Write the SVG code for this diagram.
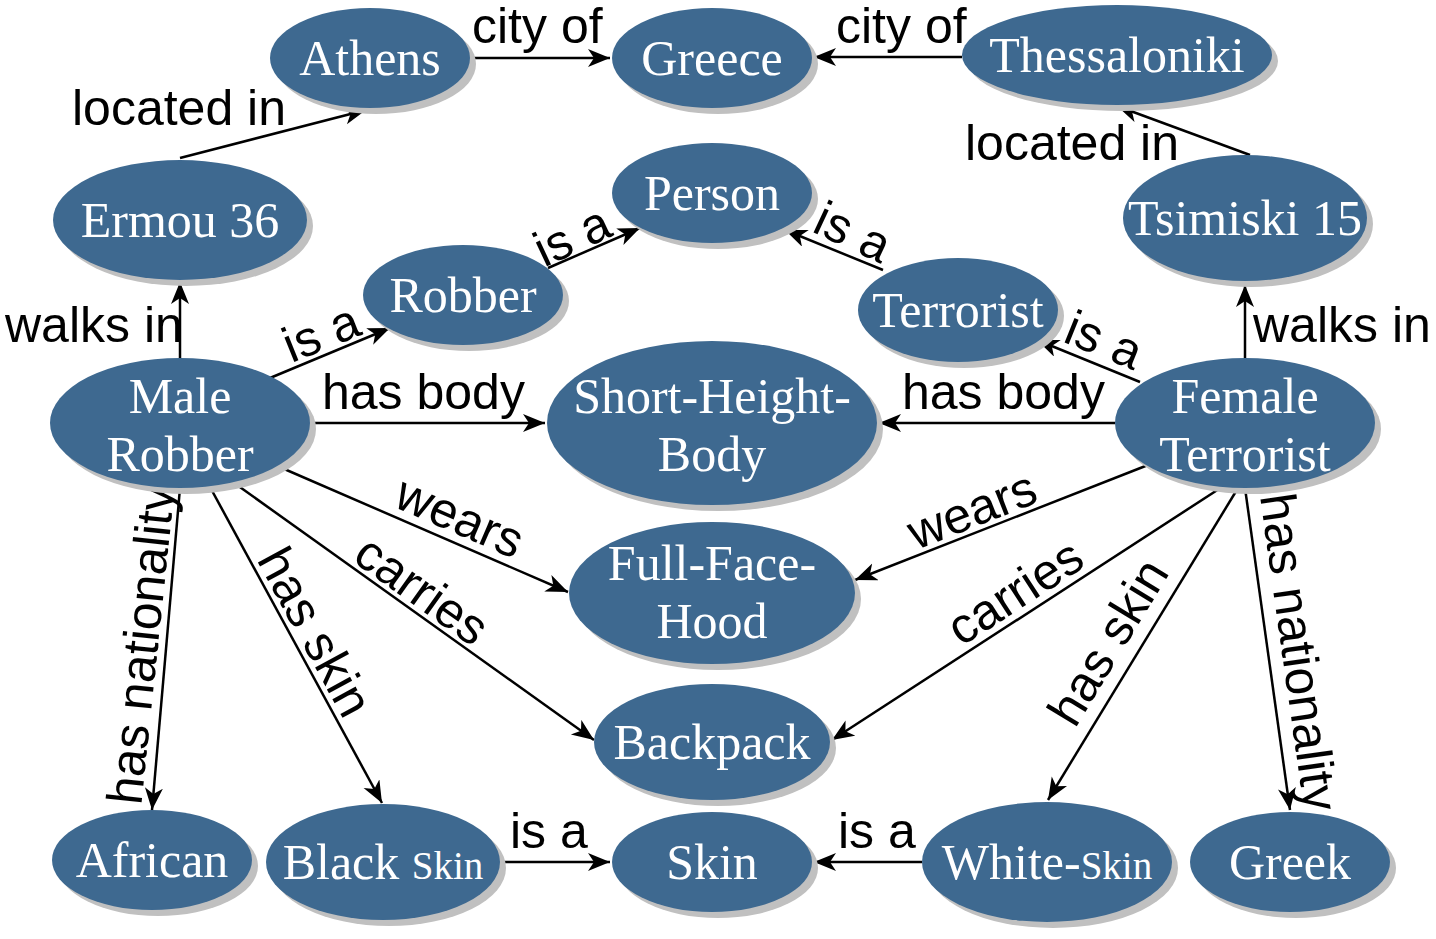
<svg xmlns="http://www.w3.org/2000/svg" width="1436" height="939" viewBox="0 0 1436 939">
<style>
.n ellipse.s{fill:#c0c0c0}
.n ellipse.f{fill:#3e6990}
.n text{font-family:"Liberation Serif","Times New Roman",serif;font-size:50px;fill:#fff;text-anchor:middle}
.sm{font-size:39px}
.e line{stroke:#000;stroke-width:2.5;marker-end:url(#a)}
.l text{font-family:"Liberation Sans",Arial,sans-serif;font-size:50px;fill:#000}
.c{text-anchor:middle}
</style>
<defs>
<marker id="a" markerUnits="userSpaceOnUse" markerWidth="24" markerHeight="20" refX="22" refY="9" orient="auto">
<path d="M0,0 L22,9 L0,18 L6,9 z" fill="#000"/>
</marker>
</defs>
<rect width="1436" height="939" fill="#fff"/>
<g id="edges" class="e">
<line x1="470" y1="58" x2="610" y2="58"/>
<line x1="962" y1="57" x2="814" y2="57"/>
<line x1="180" y1="158" x2="366" y2="110"/>
<line x1="1250" y1="155" x2="1117" y2="106"/>
<line x1="180" y1="358" x2="180" y2="282"/>
<line x1="1245" y1="358" x2="1245" y2="285"/>
<line x1="548" y1="268" x2="640" y2="228"/>
<line x1="883" y1="270" x2="785" y2="230"/>
<line x1="270" y1="378" x2="390" y2="328"/>
<line x1="1140" y1="382" x2="1037" y2="340"/>
<line x1="310" y1="423" x2="545" y2="423"/>
<line x1="1115" y1="423" x2="879" y2="423"/>
<line x1="275" y1="465" x2="568" y2="592"/>
<line x1="1148" y1="465" x2="855" y2="580"/>
<line x1="237" y1="485" x2="594" y2="740"/>
<line x1="1222" y1="487" x2="832" y2="740"/>
<line x1="210" y1="487" x2="382" y2="803"/>
<line x1="1238" y1="488" x2="1048" y2="800"/>
<line x1="180" y1="488" x2="152" y2="810"/>
<line x1="1245" y1="488" x2="1290" y2="810"/>
<line x1="500" y1="862" x2="610" y2="862"/>
<line x1="922" y1="862" x2="814" y2="862"/>
</g>
<g id="labels" class="l">
<text x="472" y="43">city of</text>
<text x="836" y="43">city of</text>
<text x="72" y="125">located in</text>
<text x="965" y="160">located in</text>
<text x="5" y="342">walks in</text>
<text x="1253" y="342">walks in</text>
<text class="c" transform="translate(572,236) rotate(-25)" y="17">is a</text>
<text class="c" transform="translate(853,232) rotate(25)" y="17">is a</text>
<text class="c" transform="translate(321,333) rotate(-22)" y="17">is a</text>
<text class="c" transform="translate(1104,340) rotate(22)" y="17">is a</text>
<text x="322" y="409">has body</text>
<text x="902" y="409">has body</text>
<text class="c" transform="translate(460,517) rotate(23.4)" y="17">wears</text>
<text class="c" transform="translate(972,510) rotate(-21.4)" y="17">wears</text>
<text class="c" transform="translate(422,590) rotate(35.5)" y="17">carries</text>
<text class="c" transform="translate(1015,592) rotate(-33)" y="17">carries</text>
<text class="c" transform="translate(315,632) rotate(61.4)" y="17">has skin</text>
<text class="c" transform="translate(1108,642) rotate(-58.7)" y="17">has skin</text>
<text class="c" transform="translate(141,645) rotate(-84)" y="17">has nationality</text>
<text class="c" transform="translate(1299,652) rotate(82)" y="17">has nationality</text>
<text x="510" y="848">is a</text>
<text x="838" y="848">is a</text>
</g>
<g id="athens" class="n"><ellipse class="s" cx="376" cy="64" rx="100" ry="50"/><ellipse class="f" cx="370" cy="58" rx="100" ry="50"/><text x="370" y="75">Athens</text></g>
<g id="greece" class="n"><ellipse class="s" cx="718" cy="64" rx="100" ry="50"/><ellipse class="f" cx="712" cy="58" rx="100" ry="50"/><text x="712" y="75">Greece</text></g>
<g id="thessaloniki" class="n"><ellipse class="s" cx="1123" cy="61" rx="155" ry="50"/><ellipse class="f" cx="1117" cy="55" rx="155" ry="50"/><text x="1117" y="72">Thessaloniki</text></g>
<g id="ermou36" class="n"><ellipse class="s" cx="186" cy="226" rx="127" ry="60"/><ellipse class="f" cx="180" cy="220" rx="127" ry="60"/><text x="180" y="237">Ermou 36</text></g>
<g id="person" class="n"><ellipse class="s" cx="718" cy="199" rx="100" ry="50"/><ellipse class="f" cx="712" cy="193" rx="100" ry="50"/><text x="712" y="210">Person</text></g>
<g id="tsimiski15" class="n"><ellipse class="s" cx="1251" cy="224" rx="122" ry="63"/><ellipse class="f" cx="1245" cy="218" rx="122" ry="63"/><text x="1245" y="235">Tsimiski 15</text></g>
<g id="robber" class="n"><ellipse class="s" cx="469" cy="301" rx="100" ry="50"/><ellipse class="f" cx="463" cy="295" rx="100" ry="50"/><text x="463" y="312">Robber</text></g>
<g id="terrorist" class="n"><ellipse class="s" cx="964" cy="316" rx="100" ry="52"/><ellipse class="f" cx="958" cy="310" rx="100" ry="52"/><text x="958" y="327">Terrorist</text></g>
<g id="male-robber" class="n"><ellipse class="s" cx="186" cy="429" rx="130" ry="65"/><ellipse class="f" cx="180" cy="423" rx="130" ry="65"/><text x="180" y="413">Male</text><text x="180" y="471">Robber</text></g>
<g id="short-height-body" class="n"><ellipse class="s" cx="718" cy="429" rx="165" ry="82"/><ellipse class="f" cx="712" cy="423" rx="165" ry="82"/><text x="712" y="413">Short-Height-</text><text x="712" y="471">Body</text></g>
<g id="female-terrorist" class="n"><ellipse class="s" cx="1251" cy="429" rx="130" ry="65"/><ellipse class="f" cx="1245" cy="423" rx="130" ry="65"/><text x="1245" y="413">Female</text><text x="1245" y="471">Terrorist</text></g>
<g id="full-face-hood" class="n"><ellipse class="s" cx="718" cy="599" rx="143" ry="71"/><ellipse class="f" cx="712" cy="593" rx="143" ry="71"/><text x="712" y="580">Full-Face-</text><text x="712" y="638">Hood</text></g>
<g id="backpack" class="n"><ellipse class="s" cx="718" cy="748" rx="118" ry="58"/><ellipse class="f" cx="712" cy="742" rx="118" ry="58"/><text x="712" y="759">Backpack</text></g>
<g id="african" class="n"><ellipse class="s" cx="158" cy="866" rx="100" ry="50"/><ellipse class="f" cx="152" cy="860" rx="100" ry="50"/><text x="152" y="877">African</text></g>
<g id="black-skin" class="n"><ellipse class="s" cx="389" cy="868" rx="117" ry="58"/><ellipse class="f" cx="383" cy="862" rx="117" ry="58"/><text x="383" y="879">Black <tspan class="sm">Skin</tspan></text></g>
<g id="skin" class="n"><ellipse class="s" cx="718" cy="868" rx="100" ry="50"/><ellipse class="f" cx="712" cy="862" rx="100" ry="50"/><text x="712" y="879">Skin</text></g>
<g id="white-skin" class="n"><ellipse class="s" cx="1053" cy="868" rx="125" ry="60"/><ellipse class="f" cx="1047" cy="862" rx="125" ry="60"/><text x="1047" y="879">White-<tspan class="sm">Skin</tspan></text></g>
<g id="greek" class="n"><ellipse class="s" cx="1296" cy="868" rx="100" ry="50"/><ellipse class="f" cx="1290" cy="862" rx="100" ry="50"/><text x="1290" y="879">Greek</text></g>
</svg>
